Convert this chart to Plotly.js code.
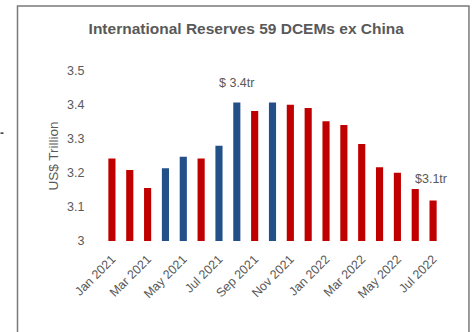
<!DOCTYPE html>
<html>
<head>
<meta charset="utf-8">
<script src="https://cdn.plot.ly/plotly-3.0.1.min.js"></script>
<style>
html,body{margin:0;padding:0;background:#fff;}
#chart{width:474px;height:332px;}
</style>
</head>
<body>
<div id="chart"></div>
<script>
var months = ["Jan 2021","Feb 2021","Mar 2021","Apr 2021","May 2021","Jun 2021","Jul 2021","Aug 2021","Sep 2021","Oct 2021","Nov 2021","Dec 2021","Jan 2022","Feb 2022","Mar 2022","Apr 2022","May 2022","Jun 2022","Jul 2022"];
var reserves = [3.243,3.209,3.156,3.214,3.248,3.243,3.280,3.407,3.382,3.407,3.401,3.391,3.352,3.341,3.285,3.217,3.201,3.153,3.119];
var barGroup = ["r","r","r","b","b","r","b","b","r","b","r","r","r","r","r","r","r","r","r"];
var tickLabels = ["Jan 2021","Mar 2021","May 2021","Jul 2021","Sep 2021","Nov 2021","Jan 2022","Mar 2022","May 2022","Jul 2022"];
var yTicks = [3, 3.1, 3.2, 3.3, 3.4, 3.5];
var yTickText = ["3","3.1","3.2","3.3","3.4","3.5"];
var notes = [{month:"Aug 2021", value:3.407, text:"$ 3.4tr"},{month:"Jun 2022", value:3.153, text:"$3.1tr"}];

var RED = "#C00000", BLUE = "#24508A";
var W = 474, H = 332;
var mL = 102.6, mR = 32, mT = 70.5, mB = 90.5;
var pw = W - mL - mR, ph = H - mT - mB;
function px(x){ return (x - mL) / pw; }
function py(y){ return (H - mB - y) / ph; }

var trace = {
  type: "bar",
  x: months,
  y: reserves,
  marker: {color: barGroup.map(function(g){ return g === "b" ? BLUE : RED; })},
  width: 0.4,
  hoverinfo: "x+y"
};

var font = {family: "Liberation Sans, Arial, sans-serif", color: "#595959"};
var noteShift = [{xs: 0, ys: 11}, {xs: 16, ys: 1}];

var layout = {
  width: W, height: H,
  margin: {l: mL, r: mR, t: mT, b: mB, pad: 0},
  paper_bgcolor: "#fff", plot_bgcolor: "#fff",
  showlegend: false,
  font: {family: font.family, color: font.color, size: 12},
  title: {
    text: "<b>International Reserves 59 DCEMs ex China</b>",
    font: {family: font.family, color: "#595959", size: 15.5},
    x: px(246), xref: "paper", xanchor: "center",
    y: 1 - 29/H, yref: "container", yanchor: "middle"
  },
  xaxis: {
    type: "category",
    categoryorder: "array", categoryarray: months,
    tickmode: "array", tickvals: tickLabels, ticktext: tickLabels,
    tickangle: -45,
    ticks: "outside", ticklen: 5, tickcolor: "rgba(0,0,0,0)",
    tickfont: {family: font.family, color: "#595959", size: 12.5},
    showgrid: false, zeroline: false, showline: false,
    range: [-0.5, months.length - 0.5],
    fixedrange: true
  },
  yaxis: {
    range: [3, 3.5],
    tickmode: "array", tickvals: yTicks, ticktext: yTickText,
    ticks: "outside", ticklen: 15, tickcolor: "rgba(0,0,0,0)",
    tickfont: {family: font.family, color: "#595959", size: 12.5},
    showgrid: false, zeroline: false, showline: false,
    title: {text: "US$ Trillion", font: {family: font.family, color: "#595959", size: 13.5}, standoff: 5},
    fixedrange: true
  },
  annotations: notes.map(function(n, i){
    return {x: n.month, y: n.value, xref: "x", yref: "y", text: n.text, showarrow: false,
            xanchor: "center", yanchor: "bottom", xshift: noteShift[i].xs, yshift: noteShift[i].ys,
            font: {family: font.family, color: "#595959", size: 12.5}};
  }),
  shapes: [
    {type: "rect", xref: "paper", yref: "paper",
     x0: px(17), x1: px(469), y0: py(345), y1: py(5),
     line: {color: "#7a7a7a", width: 1.5}, fillcolor: "rgba(0,0,0,0)", layer: "below"},
    {type: "line", xref: "paper", yref: "paper",
     x0: px(0), x1: px(3), y0: py(133), y1: py(133),
     line: {color: "#333", width: 1.5}}
  ]
};

Plotly.newPlot("chart", [trace], layout, {staticPlot: true, displayModeBar: false});
</script>
</body>
</html>
